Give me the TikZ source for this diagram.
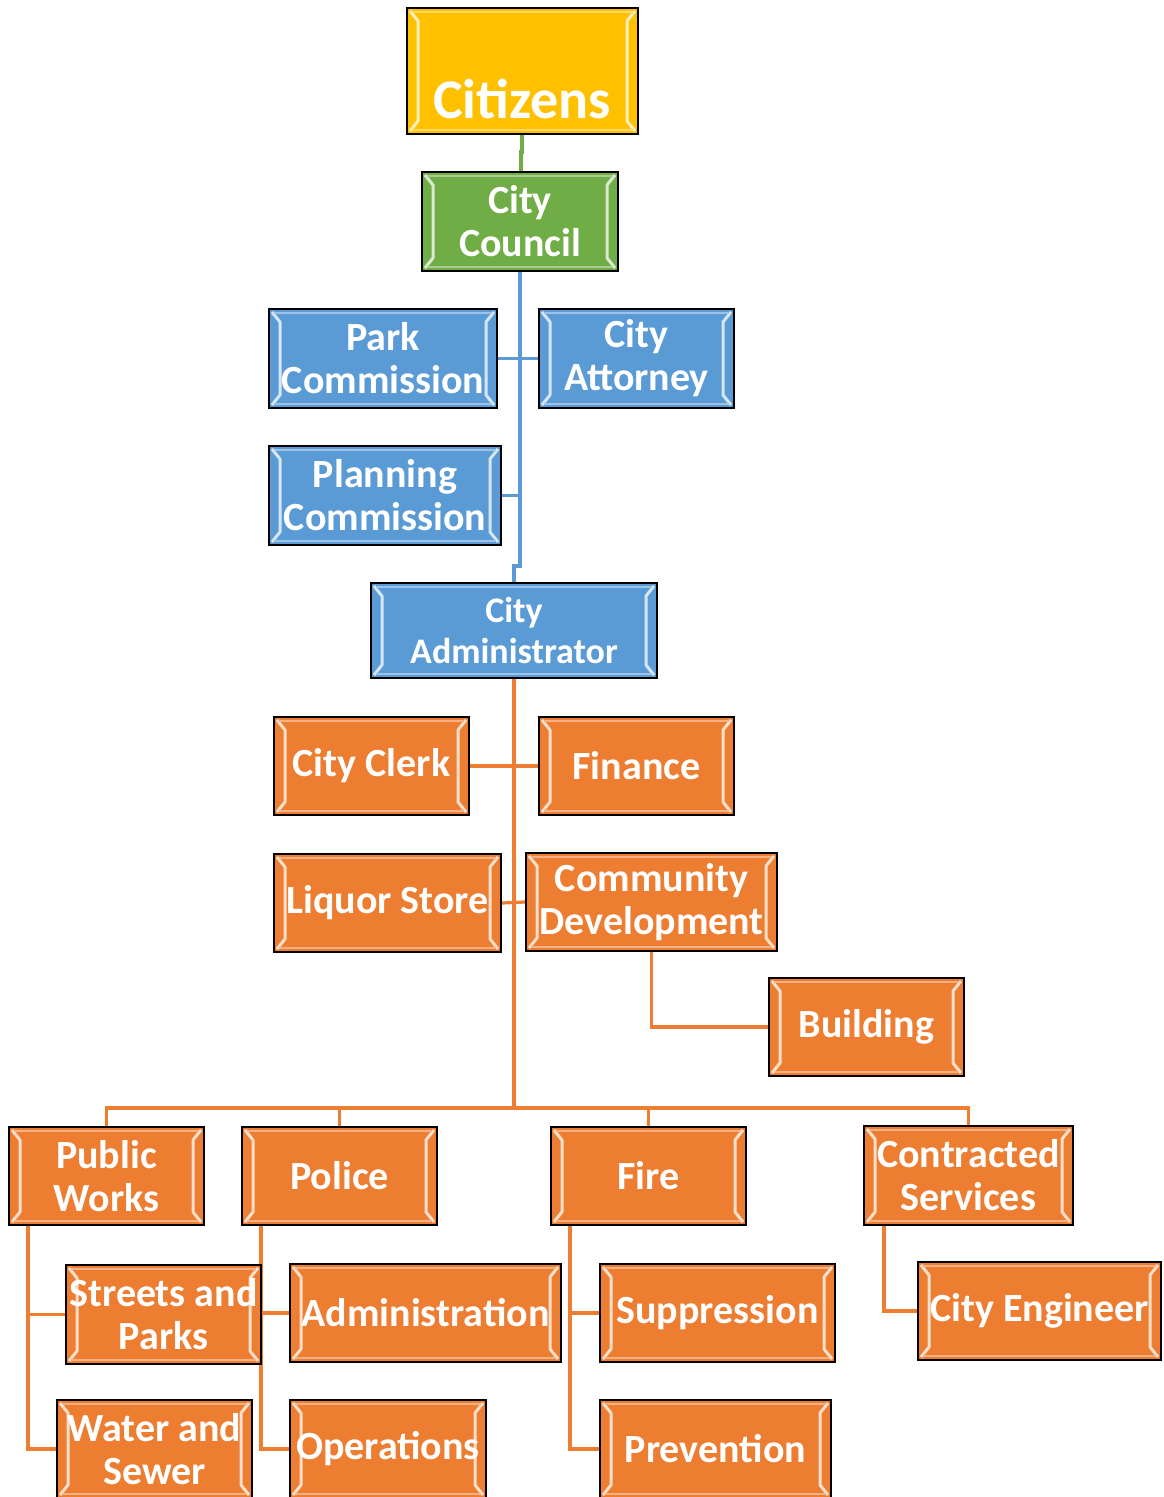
\documentclass[tikz,border=0pt]{standalone}
\usepackage{fontspec}
\setmainfont{Carlito}
\usetikzlibrary{backgrounds}
\definecolor{cgold}{HTML}{FFC000}
\definecolor{cgreen}{HTML}{70AD47}
\definecolor{cblue}{HTML}{5B9BD5}
\definecolor{corange}{HTML}{ED7D31}
\tikzset{
  box/.style={draw=black, line width=2.2pt, fill=#1, text=white,
    font=\bfseries\fontsize{40}{43}\selectfont, align=center, inner sep=0pt,
    path picture={
      \draw[#1!25!white, line width=3pt, line join=round]
        ([xshift=3pt,yshift=-3pt]path picture bounding box.north west) --
        ([xshift=11pt,yshift=-13pt]path picture bounding box.north west) --
        ([xshift=11pt,yshift=13pt]path picture bounding box.south west) --
        ([xshift=3pt,yshift=3pt]path picture bounding box.south west);
      \draw[#1!25!white, line width=3pt, line join=round]
        ([xshift=-3pt,yshift=-3pt]path picture bounding box.north east) --
        ([xshift=-11pt,yshift=-13pt]path picture bounding box.north east) --
        ([xshift=-11pt,yshift=13pt]path picture bounding box.south east) --
        ([xshift=-3pt,yshift=3pt]path picture bounding box.south east);
      \draw[#1!60!white, line width=1.5pt]
        ([xshift=5pt,yshift=-4pt]path picture bounding box.north west) --
        ([xshift=-5pt,yshift=-4pt]path picture bounding box.north east);
      \draw[#1!60!white, line width=1.5pt]
        ([xshift=5pt,yshift=4pt]path picture bounding box.south west) --
        ([xshift=-5pt,yshift=4pt]path picture bounding box.south east);
    }},
  conn/.style={line width=3.2pt, draw=#1},
}
\begin{document}
\begin{tikzpicture}[x=1pt,y=-1pt]
\useasboundingbox (0,0) rectangle (1163,1497);
\clip (0,0) rectangle (1163,1497);
% boxes
\node[box=cgold, minimum width=231pt, minimum height=126pt] (citizens) at (522.5,71) {};
\node[text=white, font=\bfseries\fontsize{56}{60}\selectfont, inner sep=0pt] (citizenslabel) at (522,99) {Citizens};
\node[box=cgreen, minimum width=196pt, minimum height=99pt] (council) at (520,221.5) {City\\Council};
\node[box=cblue, minimum width=228pt, minimum height=99pt] (park) at (383,358.5) {Park\\Commission};
\node[box=cblue, minimum width=195pt, minimum height=99pt] (attorney) at (636.5,358.5) {City\\Attorney};
\node[box=cblue, minimum width=232pt, minimum height=99pt] (planning) at (385,495.5) {Planning\\Commission};
\node[box=cblue, minimum width=286pt, minimum height=95pt, font=\bfseries\fontsize{36}{41}\selectfont] (admin) at (514,630.5) {City\\Administrator};
\node[box=corange, minimum width=195pt, minimum height=98pt] (clerk) at (371.5,766) {City Clerk};
\node[box=corange, minimum width=195pt, minimum height=98pt] (finance) at (636.5,766) {Finance};
\node[box=corange, minimum width=227pt, minimum height=98pt] (liquor) at (387.5,903) {Liquor Store};
\node[box=corange, minimum width=251pt, minimum height=98pt] (community) at (651.5,902) {Community\\Development};
\node[box=corange, minimum width=195pt, minimum height=98pt] (building) at (866.5,1027) {Building};
\node[box=corange, minimum width=195pt, minimum height=98pt] (public) at (106.5,1176) {Public\\Works};
\node[box=corange, minimum width=195pt, minimum height=98pt] (police) at (339.5,1176) {Police};
\node[box=corange, minimum width=195pt, minimum height=98pt] (fire) at (648.5,1176) {Fire};
\node[box=corange, minimum width=209pt, minimum height=99pt] (contracted) at (968.5,1175.5) {Contracted\\Services};
\node[box=corange, minimum width=195pt, minimum height=99pt] (streets) at (163.5,1314.5) {Streets and\\Parks};
\node[box=corange, minimum width=271pt, minimum height=98pt] (administration) at (425.5,1313) {Administration};
\node[box=corange, minimum width=235pt, minimum height=98pt] (suppression) at (717.5,1313) {Suppression};
\node[box=corange, minimum width=243pt, minimum height=98pt] (engineer) at (1039.5,1311) {City Engineer};
\node[box=corange, minimum width=195pt, minimum height=98pt] (water) at (154.5,1449) {Water and\\Sewer};
\node[box=corange, minimum width=196pt, minimum height=98pt] (operations) at (388,1449) {Operations};
\node[box=corange, minimum width=231pt, minimum height=98pt] (prevention) at (715.5,1449) {Prevention};
\coordinate (bus) at (514,1108);
% connectors
\begin{pgfonlayer}{background}
\draw[conn=cgreen] (citizens.south -| 522,0) -- (522,152) -- (521,152) -- (council.north -| 521,0);
\draw[conn=cblue] (council.south) -- (council.south |- 0,566) -| (admin.north);
\draw[conn=cblue] (park.east) -- (attorney.west);
\draw[conn=cblue] (planning.east) -- (planning.east -| council.south);
\draw[conn=corange] (admin.south) -- (admin.south |- bus);
\draw[conn=corange] (clerk.east) -- (finance.west);
\draw[conn=corange] (liquor.east) -- (community.west);
\draw[conn=corange] (community.south) |- (building.west);
\draw[conn=corange] (public.north) |- (bus) -| (contracted.north);
\draw[conn=corange] (police.north) |- (bus);
\draw[conn=corange] (fire.north) |- (bus);
\draw[conn=corange] ([xshift=20pt]public.south west) |- (streets.west);
\draw[conn=corange] ([xshift=20pt]public.south west) |- (water.west);
\draw[conn=corange] ([xshift=20pt]police.south west) |- (administration.west);
\draw[conn=corange] ([xshift=20pt]police.south west) |- (operations.west);
\draw[conn=corange] ([xshift=20pt]fire.south west) |- (suppression.west);
\draw[conn=corange] ([xshift=20pt]fire.south west) |- (prevention.west);
\draw[conn=corange] ([xshift=21pt]contracted.south west) |- (engineer.west);
\end{pgfonlayer}
\end{tikzpicture}
\end{document}
